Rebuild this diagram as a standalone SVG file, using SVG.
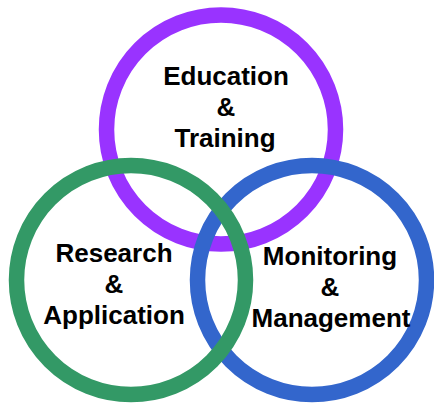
<svg xmlns="http://www.w3.org/2000/svg" width="434" height="404" viewBox="0 0 434 404">
<style>
.ring{fill:none;stroke-width:15.5}
.lbl{font-family:"Liberation Sans",Arial,sans-serif;font-weight:bold;font-size:26px;fill:#000;text-anchor:middle}
</style>
<rect width="434" height="404" fill="#fff"/>
<g id="education">
<circle class="ring" cx="221" cy="129.5" r="114.5" stroke="#9933ff"/>
</g>
<g id="monitoring">
<circle class="ring" cx="312" cy="280" r="114.5" stroke="#3366cc"/>
</g>
<g id="research">
<circle class="ring" cx="131" cy="280" r="114.5" stroke="#339966"/>
</g>
<g id="labels">
<text class="lbl" x="226" y="85">Education</text>
<text class="lbl" x="226" y="116">&amp;</text>
<text class="lbl" x="225" y="147">Training</text>
<text class="lbl" x="114" y="262">Research</text>
<text class="lbl" x="114" y="293">&amp;</text>
<text class="lbl" x="114" y="324">Application</text>
<text class="lbl" x="330" y="265">Monitoring</text>
<text class="lbl" x="330" y="296">&amp;</text>
<text class="lbl" x="331" y="327">Management</text>
</g>
</svg>
